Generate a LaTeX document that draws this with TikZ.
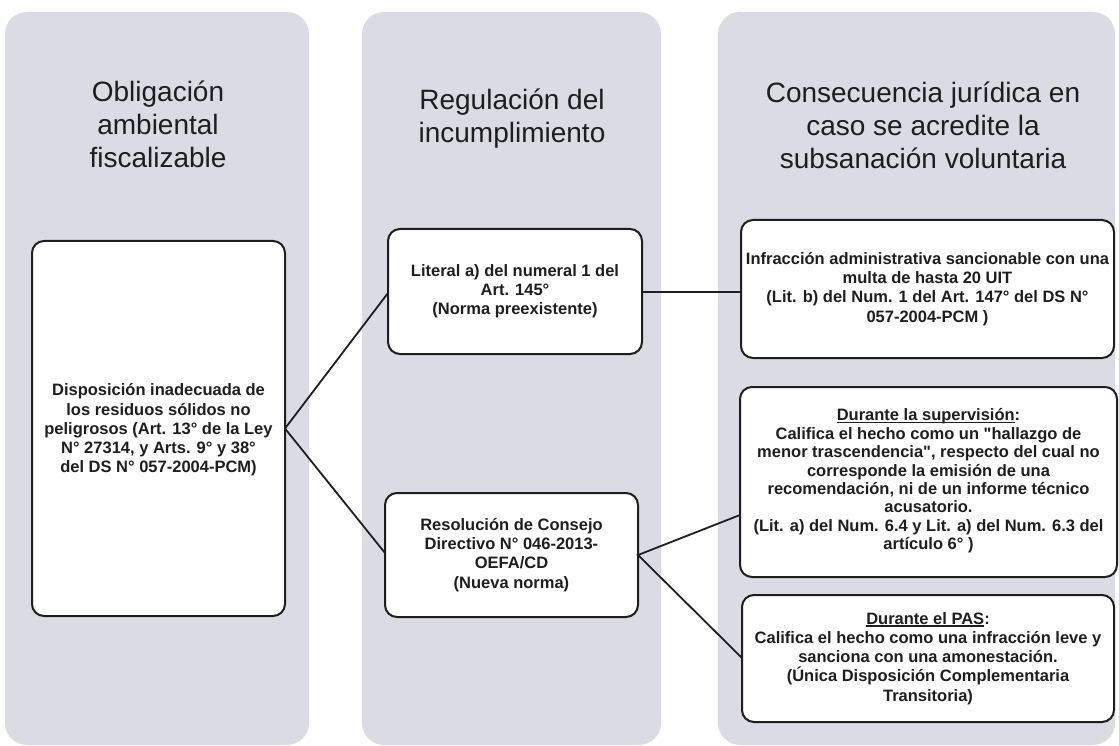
\documentclass[tikz,border=0pt]{standalone}
\usepackage{fontspec}
\setmainfont{Liberation Sans}
\usetikzlibrary{calc}
\definecolor{colbg}{RGB}{219,219,227}
\definecolor{ink}{RGB}{30,30,30}
\newcommand{\myul}[1]{\setbox0=\hbox{#1}\rlap{\rule[-2.2pt]{\wd0}{1.1pt}}\box0}
\tikzset{
  colpanel/.style={fill=colbg, draw=none, rounded corners=22pt},
  heading/.style={align=center, text=ink, font=\fontsize{28}{33}\selectfont, inner sep=0pt},
  ruleboxstyle/.style={draw=ink, line width=2pt, fill=white, rounded corners=12pt},
  bodytext/.style={align=center, text=ink, font=\bfseries\fontsize{16.5}{19.2}\selectfont, inner sep=0pt},
  link/.style={draw=ink, line width=1.8pt}
}
\begin{document}
\begin{tikzpicture}[x=1pt,y=-1pt]
\useasboundingbox (0,0) rectangle (1119,746);
% column panels
\fill[colpanel] (5,12) rectangle (309,745);
\fill[colpanel] (362,12) rectangle (661,745);
\fill[colpanel] (718,12) rectangle (1115,745);
% headings
\node[heading] (h1) at (158,124) {Obligación\\ambiental\\fiscalizable};
\node[heading] (h2) at (512,119) {Regulación del\\incumplimiento};
\node[heading] (h3) at (923,125) {Consecuencia jurídica en\\caso se acredite la\\subsanación voluntaria};
% boxes
\draw[ruleboxstyle] (32,241) rectangle (285,616);
\node[bodytext] (left) at (158.5,430) {Disposición inadecuada de\\los residuos sólidos no\\peligrosos (Art. 13° de la Ley\\N° 27314, y Arts. 9° y 38°\\del DS N° 057-2004-PCM)};
\coordinate (leftE) at (285,428.5);

\draw[ruleboxstyle] (388,229) rectangle (642,354);
\node[bodytext] (lit) at (515,291.5) {Literal a) del numeral 1 del\\Art. 145°\\(Norma preexistente)};
\coordinate (litW) at (388,293);
\coordinate (litE) at (642,292);

\draw[ruleboxstyle] (385,493) rectangle (638,617);
\node[bodytext] (res) at (511.5,555) {Resolución de Consejo\\Directivo N° 046-2013-\\OEFA/CD\\(Nueva norma)};
\coordinate (resW) at (385,553);
\coordinate (resE) at (638,555);

\draw[ruleboxstyle] (741,220) rectangle (1114,358);
\node[bodytext] (inf) at (927.5,289) {Infracción administrativa sancionable con una\\multa de hasta 20 UIT\\(Lit. b) del Num. 1 del Art. 147° del DS N°\\057-2004-PCM )};
\coordinate (infW) at (741,292);

\draw[ruleboxstyle] (740,387) rectangle (1117,577);
\node[bodytext, font=\bfseries\fontsize{16.5}{18.4}\selectfont] (sup) at (928.5,481) {\myul{Durante la supervisión}:\\Califica el hecho como un \textquotedbl hallazgo de\\menor trascendencia\textquotedbl, respecto del cual no\\corresponde la emisión de una\\recomendación, ni de un informe técnico\\acusatorio.\\(Lit. a) del Num. 6.4 y Lit. a) del Num. 6.3 del\\artículo 6° )};
\coordinate (supW) at (740,515);

\draw[ruleboxstyle] (742,595) rectangle (1114,722);
\node[bodytext] (pas) at (928,658.5) {\myul{Durante el PAS}:\\Califica el hecho como una infracción leve y\\sanciona con una amonestación.\\(Única Disposición Complementaria\\Transitoria)};
\coordinate (pasW) at (742,658);

% connectors
\draw[link] (litW) -- (leftE) -- (resW);
\draw[link] (litE) -- (infW);
\draw[link] (supW) -- (resE) -- (pasW);
\end{tikzpicture}
\end{document}
